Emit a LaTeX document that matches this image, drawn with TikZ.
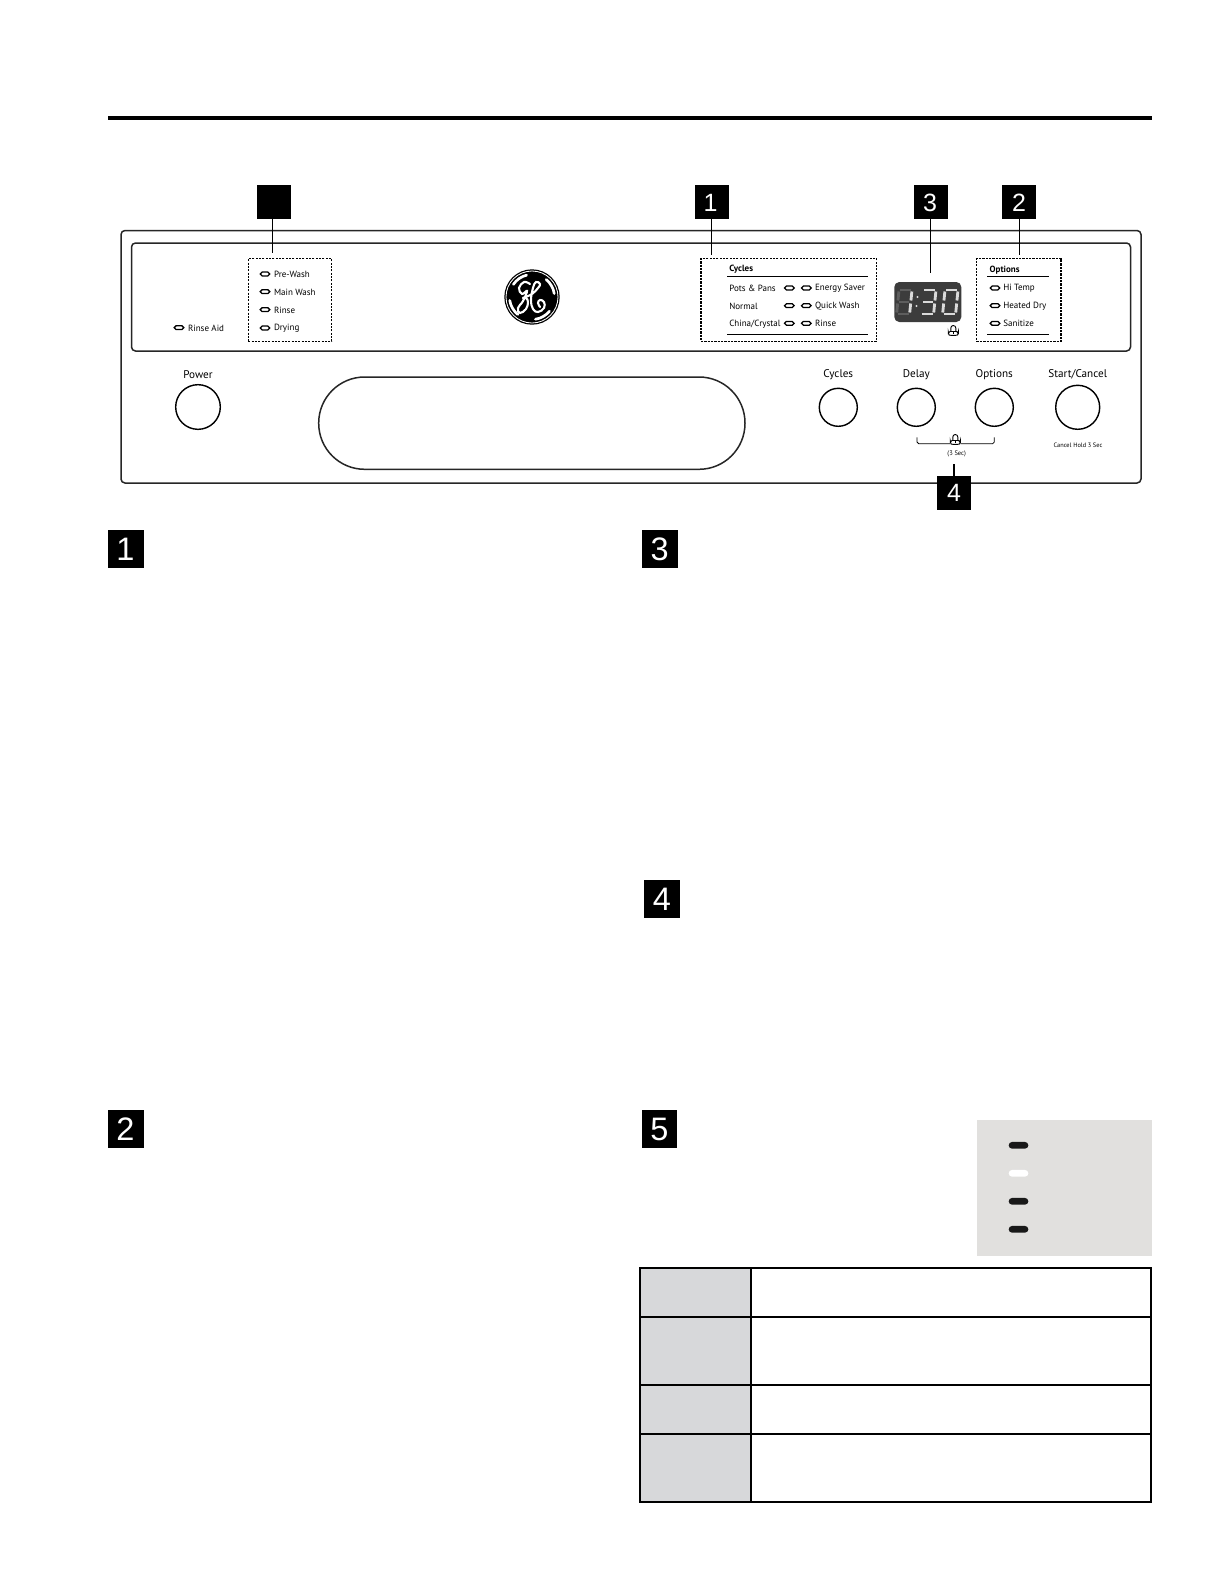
\documentclass[tikz,border=0pt]{standalone}
\usepackage{fontspec}
\setmainfont{PT Sans}
\newfontfamily\numfont{Liberation Sans}
\usetikzlibrary{fit,calc,shapes.misc}
\definecolor{cellgray}{HTML}{D7D8DA}
\definecolor{swatch}{HTML}{E1E0DE}
\definecolor{dispbg}{HTML}{3C3C3C}
\definecolor{ghost}{HTML}{5E5E5E}
\definecolor{lit}{HTML}{DADADA}
\tikzset{
  numbox/.style={fill=black,inner sep=0pt},
  smalldigit/.style={text=white,font=\numfont\fontsize{15}{15}\selectfont,yshift=-0.3pt},
  bigdigit/.style={text=white,font=\numfont\fontsize{19.5}{19.5}\selectfont,yshift=-0.4pt},
  panelbox/.style={draw=black!85,line width=0.9pt,rounded corners=2.4pt,inner sep=0pt},
  dotbox/.style={draw=black,line width=0.7pt,dash pattern=on 1.3pt off 0.7pt,inner sep=0pt},
  leader/.style={draw=black,line width=0.75pt},
  led/.style={rounded rectangle,draw=black,line width=0.75pt,fill=white,minimum width=5.8pt,minimum height=2.3pt,inner sep=0pt},
  bigled/.style={rounded rectangle,fill=black!90,minimum width=11.8pt,minimum height=4pt,inner sep=0pt},
  tag/.style={anchor=west,inner sep=0pt,font=\fontsize{5.4}{5.4}\selectfont},
  taghead/.style={tag,font=\bfseries\fontsize{5.4}{5.4}\selectfont},
  btnlabel/.style={inner sep=0pt,font=\fontsize{6.7}{6.7}\selectfont},
  btn/.style={circle,draw=black,line width=0.85pt,inner sep=0pt},
  hrule/.style={draw=black,line width=0.6pt},
  cellhead/.style={draw=black,line width=1.2pt,fill=cellgray,inner sep=0pt},
  cellbody/.style={draw=black,line width=1.2pt,fill=white,inner sep=0pt},
  seg/.style={line width=1.7pt,line cap=butt}
}
\newcommand{\sevenseg}[4]{% x, y, colour, segments
  \begin{scope}[shift={(#1,#2)},xslant=0.1]
    \foreach \s in {#4}{
      \ifcase\s\relax
        \draw[seg,#3] (1,0) -- (12,0);\or
        \draw[seg,#3] (13,1.5) -- (13,10.5);\or
        \draw[seg,#3] (13,13.5) -- (13,22.5);\or
        \draw[seg,#3] (1,24) -- (12,24);\or
        \draw[seg,#3] (0,13.5) -- (0,22.5);\or
        \draw[seg,#3] (0,1.5) -- (0,10.5);\or
        \draw[seg,#3] (1.5,12) -- (11.5,12);\fi
    }
  \end{scope}}
\newcommand{\lockicon}[2]{%
  \draw[line width=0.55pt] (#1-2.5,#2+0.5) -- (#1-2.5,#2-3) arc[start angle=180,end angle=360,x radius=2.5,y radius=2.5] -- (#1+2.5,#2+0.5);
  \draw[line width=0.55pt,fill=white,rounded corners=1pt] (#1-5,#2+0.5) -- (#1+5,#2+0.5) -- (#1+5,#2+2.5) .. controls (#1+4,#2+4.5) and (#1-4,#2+4.5) .. (#1-5,#2+2.5) -- cycle;
  \draw[line width=0.55pt] (#1,#2+0.5) -- (#1,#2+2.5);}
\begin{document}
\begin{tikzpicture}[x=0.6pt,y=-0.6pt]
\useasboundingbox (0,0) rectangle (1224,1584);
\fill[white] (0,0) rectangle (1224,1584);
% top rule
\fill[black] (108,115.5) rectangle (1152,120);
% panel
\node[panelbox,fit={(121,230.5)(1141,483)}] (outer) {};
\node[panelbox,fit={(131.5,243)(1130.5,351)}] (inner) {};
\node[panelbox,rounded corners=27.6pt,fit={(318.7,377)(745,469.3)}] (pill) {};
% dotted groups
\node[dotbox,fit={(248.3,258.7)(331.7,341.3)}] (gstatus) {};
\node[dotbox,fit={(701,258.7)(876.7,341.3)}] (gcycles) {};
\node[dotbox,fit={(976.7,258.7)(1061,341.3)}] (goptions) {};
% status lights
\foreach \n/\y/\t in {a/274/Pre-Wash,b/291.7/Main Wash,c/309.7/Rinse,d/328/Drying}{
  \node[led] (ls\n) at (265,\y) {};
  \node[tag] (ts\n) at (273.7,\y+0.5) {\t};
}
\node[led] (lra) at (179,327.7) {};
\node[tag] (tra) at (187.7,328.7) {Rinse Aid};
% cycles group
\node[taghead] (tcyc) at (729,269.7) {Cycles};
\draw[hrule] (727,276.7) -- (868,276.7);
\draw[hrule] (727,334.3) -- (868,334.3);
\foreach \n/\y/\l/\r in {a/288/Pots \& Pans/Energy Saver,b/305.7/Normal/Quick Wash,c/323.3/China\slash Crystal/Rinse}{
  \node[tag] (tl\n) at (729,\y+0.5) {\l};
  \node[led] (ll\n) at (789.3,\y) {};
  \node[led] (lr\n) at (806.3,\y) {};
  \node[tag] (tr\n) at (814.7,\y+0.5) {\r};
}
% options group
\node[taghead] (topt) at (989.3,269.7) {Options};
\draw[hrule] (987,276.7) -- (1049,276.7);
\draw[hrule] (987,334.3) -- (1049,334.3);
\foreach \n/\y/\t in {a/288/Hi Temp,b/305.7/Heated Dry,c/323.3/Sanitize}{
  \node[led] (lo\n) at (995,\y) {};
  \node[tag] (to\n) at (1003,\y+0.5) {\t};
}
% display
\node[fill=dispbg,rounded corners=3pt,inner sep=0pt,fit={(894.3,282)(961.3,322)}] (disp) {};
\sevenseg{899}{290}{ghost}{0,3,4,5,6}
\sevenseg{899}{290}{lit}{1,2}
\fill[lit] (917.5,297) circle (1.2);
\fill[lit] (916.5,306) circle (1.2);
\sevenseg{923}{290}{lit}{0,1,2,3,6}
\sevenseg{945}{290}{lit}{0,1,2,3,4,5}
\lockicon{953.3}{331}
% GE logo
\begin{scope}[shift={(532,297)}]
  \fill[black] (0,0) circle (27.7);
  \draw[white,line width=0.5pt] (0,0) circle (26);
  \foreach \a in {-60,30,125,210}{
    \draw[white,line width=1.6pt,line cap=round,rotate=\a] (21,-8) arc[start angle=-21,end angle=21,radius=22.5];
  }
  \draw[white,line width=1.25pt,line cap=round] plot[smooth,tension=0.7] coordinates
    {(-2,-13) (-8,-15) (-13,-9) (-10,-3) (-5,-6) (-9,4) (-14,11) (-12,16) (-6,12) (-4,5) (-6,1) (-9,1)};
  \draw[white,line width=1.25pt,line cap=round] plot[smooth,tension=0.7] coordinates
    {(-9,1) (0,-3) (6,-9) (8,-13) (4,-15) (1,-9) (-1,3) (1,12) (6,15) (12,11) (12,5) (8,3) (6,6) (8,10)};
\end{scope}
% buttons
\node[btn,minimum size=26.8pt] (bpower) at (198,407) {};
\node[btnlabel] (lpower) at (198,375) {Power};
\node[btn,minimum size=22.8pt] (bcycles) at (838.3,407.3) {};
\node[btnlabel] (lcycles) at (838.3,375) {Cycles};
\node[btn,minimum size=22.8pt] (bdelay) at (916.3,407.3) {};
\node[btnlabel] (ldelay) at (916.3,375) {Delay};
\node[btn,minimum size=22.8pt] (boptions) at (994.3,407.3) {};
\node[btnlabel] (loptions) at (994.3,375) {Options};
\node[btn,minimum size=26.4pt] (bstart) at (1077.7,407.3) {};
\node[btnlabel] (lstart) at (1077.7,374.5) {Start/Cancel};
\node[inner sep=0pt,font=\fontsize{3.8}{3.8}\selectfont] (lhold) at (1078,445) {Cancel Hold 3 Sec};
% lock bracket
\draw[line width=0.5pt,rounded corners=1pt] (917,437.3) -- (917,443.7) -- (950,443.7);
\draw[line width=0.5pt,rounded corners=1pt] (994.3,437.3) -- (994.3,443.7) -- (960.5,443.7);
\lockicon{955.3}{440}
\node[inner sep=0pt,font=\fontsize{3.9}{3.9}\selectfont] (lsec) at (956.7,453.5) {(3 Sec)};
% callouts on the panel
\coordinate (c0) at (272.7,253);
\coordinate (c1) at (711.7,255);
\coordinate (c3) at (930.3,273.3);
\coordinate (c2) at (1019.3,255);
\coordinate (c4) at (954,464);
\node[numbox,fit={(257,185)(291,219)}] (b0) {};
\node[numbox,fit={(695,185)(729,219)},label={[smalldigit,xshift=-0.8pt]center:1}] (b1) {};
\node[numbox,fit={(914,185)(948,219)},label={[smalldigit,xshift=-0.5pt]center:3}] (b3) {};
\node[numbox,fit={(1002,185)(1036,219)},label={[smalldigit]center:2}] (b2) {};
\node[numbox,fit={(937,476)(971,509.7)},label={[smalldigit]center:4}] (b4) {};
\draw[leader] (b0.south -| c0) -- (c0);
\draw[leader] (b1.south -| c1) -- (c1);
\draw[leader] (b3.south -| c3) -- (c3);
\draw[leader] (b2.south -| c2) -- (c2);
\draw[leader] (b4.north -| c4) -- (c4);
% section numbers
\node[numbox,fit={(108,530)(144,568)},label={[bigdigit,xshift=-0.4pt]center:1}] (s1) {};
\node[numbox,fit={(641.7,530)(677.5,568)},label={[bigdigit]center:3}] (s3) {};
\node[numbox,fit={(644,880)(680,918)},label={[bigdigit]center:4}] (s4) {};
\node[numbox,fit={(108,1109.5)(144,1147.5)},label={[bigdigit,xshift=-0.4pt]center:2}] (s2) {};
\node[numbox,fit={(641.7,1110)(677.3,1148)},label={[bigdigit]center:5}] (s5) {};
% swatch
\node[fill=swatch,inner sep=0pt,fit={(977,1120)(1152,1255.7)}] (swatchbox) {};
\node[bigled] (sa) at (1018.5,1145.3) {};
\node[bigled,fill=white] (sb) at (1018.5,1173.3) {};
\node[bigled] (sc) at (1018.5,1201.3) {};
\node[bigled] (sd) at (1018.5,1229.3) {};
% table
\foreach \n/\a/\b in {a/1268/1317,b/1317/1385,c/1385/1433.7,d/1433.7/1502}{
  \node[cellbody,fit={(751.3,\a)(1151,\b)}] (r\n) {};
  \node[cellhead,fit={(639.7,\a)(751.3,\b)}] (h\n) {};
}
\end{tikzpicture}
\end{document}
